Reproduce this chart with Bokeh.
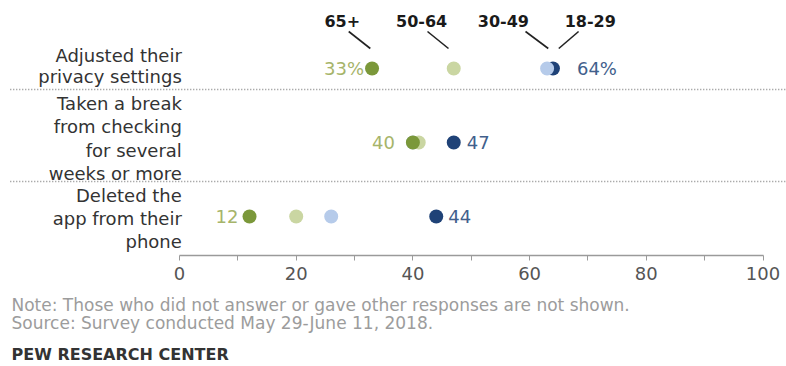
from bokeh.plotting import figure
from bokeh.layouts import column
from bokeh.models import Range1d, FixedTicker
from bokeh.core.properties import value
from bokeh.embed import file_html
from bokeh.resources import INLINE

# ---- data ----
categories = ["Adjusted their\nprivacy settings",
              "Taken a break\nfrom checking\nfor several\nweeks or more",
              "Deleted the\napp from their\nphone"]
age_groups = ["18-29", "30-49", "50-64", "65+"]
ages_18_29 = [64, 47, 44]
ages_30_49 = [63, 40, 26]
ages_50_64 = [47, 41, 20]
ages_65_plus = [33, 40, 12]
x_ticks = [0, 20, 40, 60, 80, 100]
x_minor_ticks = [10, 30, 50, 70, 90]
note_text = "Note: Those who did not answer or gave other responses are not shown."
source_text = "Source: Survey conducted May 29-June 11, 2018."
credit_text = "PEW RESEARCH CENTER"

# ---- positions / styles ----
W = 786
TOP_H, FOOT_H = 292, 74
FRAME_H = 255
row_y = [68, 142, 216]
label_y = [65, 138, 218]
label_lh = [1.0, 1.1, 1.1]
sep_y = [89, 181]
low_offset = [-8, -18, -11]
high_offset = [24, 13, 12]
colors = {"18-29": "#1f4277", "30-49": "#b6cbea", "50-64": "#cad6a2", "65+": "#7b983a"}
header_x = [70.4, 55.5, 41.5, 27.9]
header_line_start = [68.4, 59.3, 42.5, 29.0]
header_line_end_offset = [1.0, 0.2, -0.9, -0.3]

series = [ages_18_29, ages_30_49, ages_50_64, ages_65_plus]

x0_px, x100_px = 179, 762.5
ppu = (x100_px - x0_px) / 100.0
p = figure(width=W, height=TOP_H, output_backend="svg", toolbar_location=None,
           x_range=Range1d(-x0_px / ppu, (W - x0_px) / ppu),
           y_range=Range1d(FRAME_H, 0), y_axis_type=None,
           min_border_left=0, min_border_right=0, min_border_top=0,
           min_border_bottom=TOP_H - FRAME_H)
p.outline_line_color = None
p.xgrid.visible = False
p.ygrid.visible = False

# axis
ax = p.xaxis[0]
ax.ticker = FixedTicker(ticks=x_ticks, minor_ticks=x_minor_ticks)
ax.bounds = (0, 100)
ax.axis_line_color = "#9a9a9a"
ax.axis_line_width = 1.5
ax.major_tick_line_color = "#9a9a9a"
ax.minor_tick_line_color = "#9a9a9a"
ax.major_tick_in = 0
ax.major_tick_out = 5
ax.minor_tick_in = 0
ax.minor_tick_out = 5
ax.major_label_standoff = 6
ax.major_label_text_font = "DejaVu Sans"
ax.major_label_text_font_size = "18px"
ax.major_label_text_color = "#555555"

# separators
p.segment(x0=[-29.0] * len(sep_y), x1=[p.x_range.end] * len(sep_y), y0=sep_y, y1=sep_y,
          line_color="#8a8a8a", line_width=1.5, line_dash="1 2")

# dots (draw order: 18-29, 30-49, 50-64, 65+)
for grp, vals in zip(age_groups, series):
    p.scatter(x=vals, y=row_y, size=14, color=colors[grp], line_color=None)

# category labels
for cat, ly, lh in zip(categories, label_y, label_lh):
    p.text(x=[0.4], y=[ly], text=[cat], text_align="right", text_baseline="middle",
           text_font=value("DejaVu Sans"), text_font_size="18px", text_color="#333333",
           text_line_height=lh)

# value labels
low_vals = [min(v) for v in zip(*series)]
high_vals = [max(v) for v in zip(*series)]
low_txt = [f"{v}%" if i == 0 else str(v) for i, v in enumerate(low_vals)]
high_txt = [f"{v}%" if i == 0 else str(v) for i, v in enumerate(high_vals)]
for i in range(len(row_y)):
    p.text(x=[low_vals[i]], y=[row_y[i]], text=[low_txt[i]], x_offset=low_offset[i],
           text_align="right", text_baseline="middle", text_font=value("DejaVu Sans"),
           text_font_size="18px", text_color="#a6b46a")
    p.text(x=[high_vals[i]], y=[row_y[i]], text=[high_txt[i]], x_offset=high_offset[i],
           text_align="left", text_baseline="middle", text_font=value("DejaVu Sans"),
           text_font_size="18px", text_color="#41608c")

# age headers with leader lines
first_row = [s[0] for s in series]
p.text(x=header_x, y=[20] * 4, text=age_groups, text_align="center",
       text_baseline="middle", text_font=value("DejaVu Sans"), text_font_size="16px",
       text_font_style="bold", text_color="#1a1a1a")
p.segment(x0=header_line_start, y0=[31] * 4,
          x1=[v + o for v, o in zip(first_row, header_line_end_offset)], y1=[48] * 4,
          line_color="#222222", line_width=1.6)

# footer figure
f = figure(width=W, height=FOOT_H, output_backend="svg", toolbar_location=None,
           x_range=Range1d(0, W), y_range=Range1d(TOP_H + FOOT_H, TOP_H),
           x_axis_type=None, y_axis_type=None, min_border=0)
f.outline_line_color = None
f.xgrid.visible = False
f.ygrid.visible = False
f.text(x=[11, 11], y=[304, 322], text=[note_text, source_text], text_align="left",
       text_baseline="middle", text_font=value("DejaVu Sans"), text_font_size="17px",
       text_color="#9c9c9c")
f.text(x=[11], y=[354], text=[credit_text], text_align="left", text_baseline="middle",
       text_font=value("DejaVu Sans"), text_font_size="16px", text_font_style="bold",
       text_color="#333333")

layout = column(p, f, spacing=0)
open("out.html", "w").write(file_html(layout, INLINE))
